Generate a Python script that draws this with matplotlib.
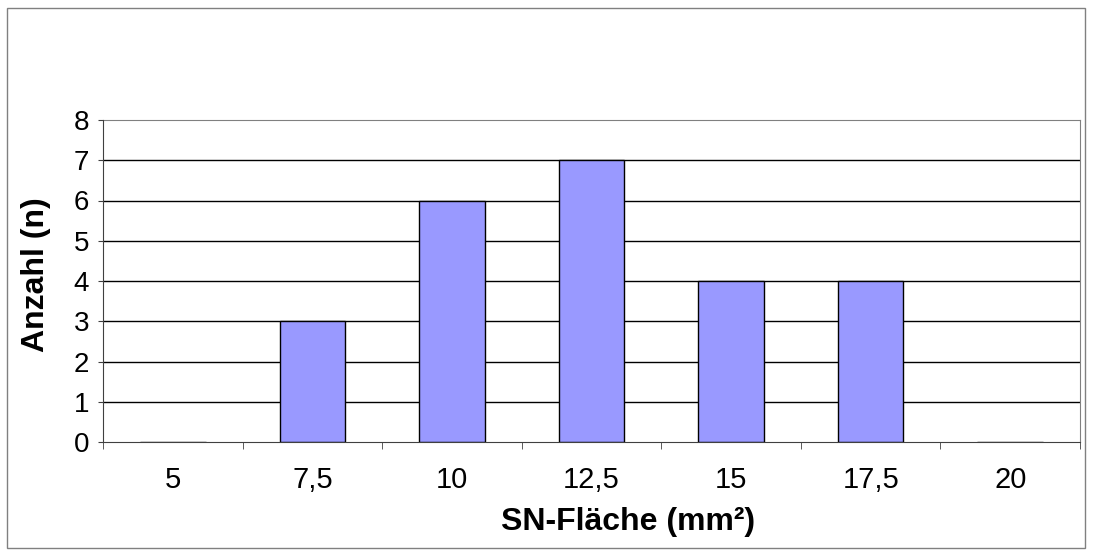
import matplotlib.pyplot as plt
from matplotlib.patches import Rectangle
import numpy as np

# SN-Fläche classes and counts
categories = ['5', '7,5', '10', '12,5', '15', '17,5', '20']
counts = [0, 3, 6, 7, 4, 4, 0]
y_ticks = [0, 1, 2, 3, 4, 5, 6, 7, 8]

plt.rcParams['font.family'] = ['Liberation Sans', 'DejaVu Sans']

W, H = 1094, 556
fig = plt.figure(figsize=(W / 100, H / 100), dpi=100)

# outer chart frame
fig.patches.append(Rectangle((7 / W, 8 / H), 1078 / W, 540 / H, transform=fig.transFigure,
                             fill=False, edgecolor='#808080', linewidth=1))

ax = fig.add_axes([103 / W, (H - 442) / H, 977 / W, 322 / H])

x = np.arange(len(categories))
ax.bar(x, counts, width=0.47, color='#9999FF', edgecolor='black', linewidth=1, zorder=3)

ax.set_xlim(-0.5, len(categories) - 0.5)
ax.set_ylim(0, 8)
ax.set_yticks(y_ticks)
ax.set_yticklabels([str(v) for v in y_ticks], fontsize=20)
ax.set_xticks(x)
ax.set_xticklabels(categories, fontsize=21)
ax.set_xticks(np.arange(-0.5, len(categories)), minor=True)
ax.tick_params(axis='x', which='major', length=0, pad=17.5)
ax.tick_params(axis='x', which='minor', length=5, color='#404040', direction='out')
ax.tick_params(axis='y', length=3.6, color='#404040', direction='out', pad=6.5)

for v in y_ticks[1:-1]:
    ax.axhline(v, color='black', linewidth=1, zorder=1)

for s in ['top', 'right']:
    ax.spines[s].set_color('#808080')
for s in ['left', 'bottom']:
    ax.spines[s].set_color('#404040')
    ax.spines[s].set_zorder(4)

# axis titles
fig.text(628 / W, (H - 530) / H, 'SN-Fläche (mm²)', fontsize=23, fontweight='bold',
         ha='center', va='baseline')
fig.text(36 / W, (H - 275) / H, 'Anzahl (n)', fontsize=23, fontweight='bold',
         rotation=90, ha='center', va='center')

plt.savefig('out.png')
